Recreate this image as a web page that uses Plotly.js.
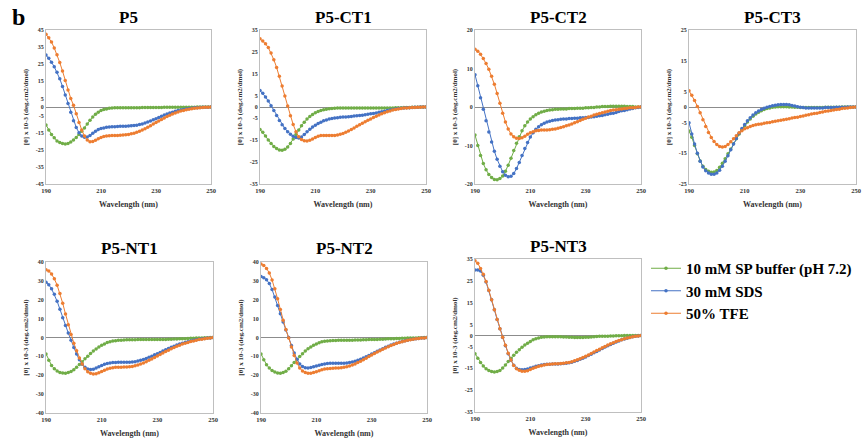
<!DOCTYPE html>
<html>
<head>
<meta charset="utf-8">
<script src="https://cdn.plot.ly/plotly-3.0.1.min.js"></script>
<style>html,body{margin:0;padding:0;background:#fff;}#chart{width:862px;height:445px;}</style>
</head>
<body>
<div id="chart"></div>
<script>
// Wavelength (nm)
const wavelength = [190,191,192,193,194,195,196,197,198,199,
  200,201,202,203,204,205,206,207,208,209,
  210,211,212,213,214,215,216,217,218,219,
  220,221,222,223,224,225,226,227,228,229,
  230,231,232,233,234,235,236,237,238,239,
  240,241,242,243,244,245,246,247,248,249,250];

const seriesNames = ["10 mM SP buffer (pH 7.2)", "30 mM SDS", "50% TFE"];
const panelTitles = ["P5", "P5-CT1", "P5-CT2", "P5-CT3", "P5-NT1", "P5-NT2", "P5-NT3"];
const xTicks = [190, 210, 230, 250];
const yRanges = [[-45,45],[-35,35],[-20,20],[-25,25],[-40,40],[-40,40],[-35,35]];
const yTicks = [
  [45,35,25,15,5,0,-5,-15,-25,-35,-45],
  [35,25,15,5,0,-5,-15,-25,-35],
  [20,10,0,-10,-20],
  [25,15,5,0,-5,-15,-25],
  [40,30,20,10,0,-10,-20,-30,-40],
  [40,30,20,10,0,-10,-20,-30,-40],
  [35,25,15,5,0,-5,-15,-25,-35]
];

// P5
const p5_buffer = [-10.5,-13.5,-16,-18,-19.8,-20.8,-21.4,-21.6,-21.3,-20.5,
  -19.3,-17.8,-16,-14.2,-12.2,-10,-7.8,-5.8,-4.2,-3,
  -2.1,-1.5,-1.1,-0.8,-0.6,-0.5,-0.5,-0.5,-0.4,-0.4,
  -0.4,-0.4,-0.4,-0.4,-0.4,-0.3,-0.3,-0.3,-0.3,-0.3,
  -0.3,-0.3,-0.3,-0.2,-0.2,-0.2,-0.2,-0.2,-0.2,-0.1,
  -0.1,-0.1,-0.1,-0.1,-0.1,0,0,0,0,0,0];
const p5_sds = [30.4,28.5,26.2,23.5,20.3,16.5,12,7,2,-3,
  -8,-12,-15,-17,-17.7,-17.5,-16.6,-15.3,-14.1,-13.2,
  -12.6,-12.2,-11.9,-11.7,-11.6,-11.5,-11.4,-11.3,-11.3,-11.2,
  -11.1,-11,-10.8,-10.6,-10.3,-9.9,-9.4,-8.8,-8.2,-7.5,
  -6.8,-6.1,-5.4,-4.7,-4.1,-3.5,-3,-2.5,-2.1,-1.7,
  -1.4,-1.1,-0.9,-0.7,-0.5,-0.4,-0.3,-0.2,-0.1,-0.1,0];
const p5_tfe = [42.5,40.5,38,34.5,30.5,26,21,15.5,10,5,
  1,-4,-9,-13.5,-17,-19.3,-20.3,-20.2,-19.5,-18.6,
  -17.8,-17.3,-17,-16.8,-16.7,-16.6,-16.6,-16.5,-16.4,-16.2,
  -16,-15.7,-15.3,-14.8,-14.2,-13.5,-12.7,-11.8,-10.9,-10,
  -9.1,-8.2,-7.3,-6.4,-5.6,-4.8,-4.1,-3.5,-2.9,-2.4,
  -2,-1.6,-1.3,-1,-0.8,-0.6,-0.4,-0.3,-0.2,-0.1,0];

// P5-CT1
const ct1_buffer = [-10.2,-11.5,-13.2,-15,-16.6,-17.9,-18.9,-19.5,-19.7,-19.2,
  -18.2,-16.6,-14.6,-12.5,-10.4,-8.5,-6.9,-5.5,-4.3,-3.4,
  -2.6,-2,-1.6,-1.3,-1,-0.8,-0.7,-0.6,-0.5,-0.5,
  -0.5,-0.5,-0.5,-0.5,-0.5,-0.5,-0.5,-0.5,-0.5,-0.5,
  -0.5,-0.5,-0.5,-0.5,-0.5,-0.5,-0.4,-0.4,-0.4,-0.3,
  -0.3,-0.3,-0.2,-0.2,-0.2,-0.1,-0.1,-0.1,0,0,0];
const ct1_sds = [7.5,6.2,4.6,2.7,0.6,-1.6,-3.9,-6.1,-8.1,-9.8,
  -11.2,-12.4,-13.3,-13.9,-14.1,-13.6,-12.5,-11.3,-10.1,-9.1,
  -8.3,-7.5,-6.9,-6.3,-5.9,-5.5,-5.2,-5,-4.9,-4.7,
  -4.6,-4.5,-4.4,-4.3,-4.1,-4,-3.9,-3.7,-3.5,-3.3,
  -3.1,-2.9,-2.7,-2.4,-2.2,-1.9,-1.6,-1.4,-1.1,-0.9,
  -0.7,-0.6,-0.4,-0.3,-0.3,-0.2,-0.1,-0.1,0,0,0];
const ct1_tfe = [31,30,28.7,27,24.5,21.5,18,14,9.5,5,
  0.5,-4,-8,-11.2,-13.5,-14.8,-15.3,-15.4,-15.1,-14.6,
  -13.9,-13.3,-13,-12.9,-12.9,-13,-13,-12.9,-12.7,-12.4,
  -12,-11.5,-10.9,-10.2,-9.5,-8.8,-8.1,-7.4,-6.7,-6,
  -5.4,-4.8,-4.2,-3.6,-3.1,-2.6,-2.2,-1.8,-1.4,-1.1,
  -0.9,-0.7,-0.5,-0.4,-0.3,-0.2,-0.2,-0.1,-0.1,0,0];

// P5-CT2
const ct2_buffer = [-7.3,-10,-12.6,-14.7,-16.3,-17.5,-18.3,-18.8,-18.9,-18.6,
  -17.9,-16.7,-15.1,-13.3,-11.3,-9.4,-7.7,-6.2,-4.9,-3.9,
  -3.1,-2.5,-2,-1.6,-1.3,-1.1,-0.9,-0.8,-0.7,-0.6,
  -0.6,-0.5,-0.5,-0.5,-0.4,-0.4,-0.4,-0.3,-0.3,-0.3,
  -0.2,-0.2,-0.1,-0.1,0,0,0.1,0.1,0.1,0.2,
  0.2,0.2,0.2,0.2,0.2,0.1,0.1,0.1,0,0,0];
const ct2_sds = [8.4,5.5,2.4,-0.6,-3.6,-6.5,-9.1,-11.5,-13.6,-15.4,
  -16.8,-17.7,-18.1,-18,-17.3,-16,-14.4,-12.6,-10.8,-9.2,
  -7.8,-6.7,-5.8,-5.1,-4.6,-4.2,-3.9,-3.7,-3.5,-3.4,
  -3.3,-3.2,-3.1,-3.1,-3,-3,-2.9,-2.9,-2.8,-2.8,
  -2.7,-2.7,-2.6,-2.5,-2.4,-2.3,-2.2,-2,-1.9,-1.7,
  -1.6,-1.4,-1.2,-1,-0.9,-0.7,-0.5,-0.4,-0.2,-0.1,0];
const ct2_tfe = [15,14.5,13.7,12.6,11.3,9.8,8,5.9,3.5,1,
  -1.6,-3.9,-5.7,-7,-7.7,-8.1,-8.2,-8,-7.6,-7.1,
  -6.7,-6.4,-6.2,-6.1,-6,-6,-6,-5.9,-5.8,-5.7,
  -5.5,-5.3,-5.1,-4.9,-4.7,-4.4,-4.1,-3.8,-3.5,-3.2,
  -2.9,-2.6,-2.4,-2.1,-1.9,-1.7,-1.5,-1.3,-1.1,-0.9,
  -0.8,-0.7,-0.6,-0.5,-0.4,-0.3,-0.2,-0.2,-0.1,0,0];

// P5-CT3
const ct3_buffer = [-7.8,-9.8,-12.5,-15.2,-17.5,-19.2,-20.3,-20.9,-21.2,-21.1,
  -20.6,-19.6,-18.3,-16.8,-15.2,-13.6,-11.9,-10.3,-8.8,-7.4,
  -6.1,-4.9,-3.9,-3,-2.3,-1.7,-1.2,-0.8,-0.5,-0.3,
  -0.1,0,0.1,0.1,0.1,0.1,0,0,-0.1,-0.1,
  -0.2,-0.2,-0.2,-0.2,-0.2,-0.2,-0.2,-0.2,-0.2,-0.1,
  -0.1,-0.1,-0.1,-0.1,-0.1,0,0,0,0,0,0];
const ct3_sds = [-5.1,-8.8,-12,-15,-17.6,-19.5,-20.7,-21.4,-21.8,-21.8,
  -21.4,-20.5,-19.2,-17.6,-15.8,-13.9,-12,-10.2,-8.5,-7,
  -5.7,-4.5,-3.5,-2.6,-1.9,-1.3,-0.8,-0.4,-0.1,0.2,
  0.4,0.6,0.7,0.8,0.8,0.8,0.7,0.5,0.3,0.1,
  -0.1,-0.2,-0.3,-0.3,-0.3,-0.3,-0.3,-0.3,-0.3,-0.2,
  -0.2,-0.2,-0.2,-0.1,-0.1,-0.1,-0.1,0,0,0,0];
const ct3_tfe = [5.3,3.8,2.1,0.2,-1.9,-4.1,-6.3,-8.3,-9.9,-11.2,
  -12.2,-12.8,-13,-12.8,-12.2,-11.3,-10.3,-9.3,-8.4,-7.7,
  -7.1,-6.7,-6.3,-6,-5.8,-5.6,-5.5,-5.3,-5.1,-5,
  -4.8,-4.6,-4.5,-4.3,-4.1,-4,-3.8,-3.6,-3.4,-3.3,
  -3.1,-2.9,-2.7,-2.5,-2.3,-2.1,-2,-1.8,-1.6,-1.4,
  -1.3,-1.1,-1,-0.8,-0.7,-0.5,-0.4,-0.3,-0.2,-0.1,0];

// P5-NT1
const nt1_buffer = [-8.7,-12,-14.8,-16.6,-17.8,-18.5,-18.8,-18.9,-18.6,-18,
  -17.1,-15.8,-14.3,-12.8,-11.3,-9.9,-8.5,-7.2,-6.1,-5,
  -4.1,-3.4,-2.7,-2.2,-1.9,-1.7,-1.5,-1.4,-1.3,-1.2,
  -1.2,-1.2,-1.2,-1.1,-1.1,-1.1,-1.1,-1.1,-1.1,-1.1,
  -1,-1,-1,-1,-0.9,-0.9,-0.8,-0.8,-0.7,-0.6,
  -0.6,-0.5,-0.4,-0.4,-0.3,-0.2,-0.2,-0.1,-0.1,0,0];
const nt1_sds = [29.3,27.9,25.8,22.9,19.2,15,10.5,6.3,2.4,-1.5,
  -5.3,-8.8,-11.8,-14.2,-15.8,-16.7,-17,-16.8,-16.2,-15.5,
  -14.8,-14.2,-13.8,-13.5,-13.3,-13.2,-13.1,-13.1,-13.1,-13.1,
  -13.1,-13,-12.8,-12.5,-12.1,-11.6,-11.1,-10.5,-9.9,-9.2,
  -8.6,-7.9,-7.2,-6.5,-5.8,-5.2,-4.6,-4,-3.5,-3,
  -2.6,-2.2,-1.8,-1.5,-1.2,-0.9,-0.7,-0.5,-0.3,-0.2,0];
const nt1_tfe = [35.9,35.2,33.6,31.1,27.7,23.3,18.2,12.5,6.8,1.6,
  -3,-7,-10.8,-14,-16.5,-18.2,-19,-19.3,-19.2,-18.7,
  -18,-17.3,-16.7,-16.3,-16,-15.8,-15.7,-15.7,-15.6,-15.6,
  -15.5,-15.3,-15,-14.6,-14.1,-13.5,-12.8,-12.1,-11.4,-10.6,
  -9.8,-9,-8.2,-7.4,-6.7,-6,-5.3,-4.7,-4.1,-3.5,
  -3,-2.6,-2.1,-1.8,-1.4,-1.1,-0.9,-0.6,-0.4,-0.2,0];

// P5-NT2
const nt2_buffer = [-8.7,-11.8,-14.4,-16.2,-17.5,-18.3,-18.8,-18.9,-18.6,-17.9,
  -16.6,-15,-13.2,-11.6,-10.1,-8.6,-7.2,-6,-5,-4.1,
  -3.4,-2.8,-2.3,-2,-1.8,-1.7,-1.6,-1.6,-1.5,-1.5,
  -1.5,-1.4,-1.4,-1.4,-1.3,-1.3,-1.3,-1.2,-1.2,-1.1,
  -1.1,-1,-1,-0.9,-0.9,-0.8,-0.7,-0.7,-0.6,-0.5,
  -0.5,-0.4,-0.4,-0.3,-0.3,-0.2,-0.2,-0.1,-0.1,0,0];
const nt2_sds = [32.3,31.7,30.6,28.6,25.4,21.4,17,12.6,8.2,4,
  0,-4.2,-8.2,-11.5,-14,-15.4,-16,-16.1,-15.9,-15.5,
  -15.1,-14.7,-14.3,-14,-13.8,-13.7,-13.6,-13.6,-13.6,-13.6,
  -13.6,-13.5,-13.3,-13,-12.6,-12.1,-11.5,-10.9,-10.2,-9.5,
  -8.8,-8.1,-7.3,-6.6,-5.9,-5.2,-4.6,-4,-3.5,-3,
  -2.5,-2.1,-1.7,-1.4,-1.1,-0.9,-0.7,-0.5,-0.3,-0.2,0];
const nt2_tfe = [39,38.1,36.6,34.2,30.5,25.8,20.5,14.8,9.2,4.2,
  -0.2,-5,-9.5,-13.5,-16.2,-17.7,-18.5,-18.9,-18.9,-18.6,
  -18.1,-17.6,-17.1,-16.7,-16.5,-16.4,-16.3,-16.2,-16.1,-16,
  -15.8,-15.5,-15.1,-14.6,-14,-13.3,-12.6,-11.8,-11,-10.1,
  -9.3,-8.5,-7.7,-7,-6.2,-5.5,-4.9,-4.3,-3.7,-3.1,
  -2.6,-2.2,-1.8,-1.5,-1.2,-0.9,-0.7,-0.5,-0.3,-0.2,0];

// P5-NT3
const nt3_buffer = [-8.3,-10.4,-12.4,-14,-15.2,-16,-16.5,-16.7,-16.5,-16,
  -14.9,-13.5,-11.9,-10.4,-9,-7.7,-6.5,-5.4,-4.4,-3.5,
  -2.7,-2,-1.5,-1.1,-0.8,-0.7,-0.6,-0.6,-0.6,-0.6,
  -0.6,-0.6,-0.7,-0.7,-0.8,-0.8,-0.9,-0.9,-0.9,-0.9,
  -0.8,-0.8,-0.7,-0.6,-0.5,-0.4,-0.4,-0.3,-0.3,-0.2,
  -0.2,-0.1,-0.1,-0.1,0,0,0,0,0,0,0];
const nt3_sds = [30,30,29.5,27.6,24.5,20.6,16.3,11.8,7.3,3.1,
  -0.9,-4.7,-8.3,-11.3,-13.6,-15,-15.5,-15.7,-15.6,-15.3,
  -14.9,-14.5,-14.1,-13.8,-13.5,-13.3,-13.2,-13.1,-13,-13,
  -13,-12.9,-12.8,-12.7,-12.5,-12.2,-11.8,-11.4,-10.9,-10.4,
  -9.8,-9.2,-8.6,-7.9,-7.3,-6.6,-6,-5.3,-4.7,-4.1,
  -3.5,-3,-2.5,-2,-1.6,-1.3,-0.9,-0.6,-0.4,-0.2,0];
const nt3_tfe = [34.2,33,30.7,28,24.7,20.7,16.3,11.8,7.3,3.1,
  -0.8,-4.5,-8.1,-11.2,-13.7,-15.2,-15.9,-16.3,-16.4,-16.1,
  -15.6,-15,-14.5,-14.1,-13.8,-13.5,-13.3,-13.1,-13,-12.9,
  -12.9,-12.8,-12.7,-12.5,-12.3,-12,-11.6,-11.1,-10.6,-10.1,
  -9.5,-8.9,-8.2,-7.6,-6.9,-6.3,-5.6,-5,-4.4,-3.8,
  -3.3,-2.8,-2.3,-1.9,-1.5,-1.2,-0.9,-0.6,-0.4,-0.2,0];

const panelData = [
  [p5_buffer, p5_sds, p5_tfe],
  [ct1_buffer, ct1_sds, ct1_tfe],
  [ct2_buffer, ct2_sds, ct2_tfe],
  [ct3_buffer, ct3_sds, ct3_tfe],
  [nt1_buffer, nt1_sds, nt1_tfe],
  [nt2_buffer, nt2_sds, nt2_tfe],
  [nt3_buffer, nt3_sds, nt3_tfe]
];

const colors = ["#70AD47", "#4472C4", "#ED7D31"];
const W = 862, H = 445;
// plot-area boxes in pixels [left, right, top, bottom]
const boxes = [
  [46, 211, 30, 184], [260, 426, 30, 184], [475, 641, 30, 184], [689, 856, 30, 184],
  [46, 213, 262, 413], [261, 427, 262, 413], [475, 641, 259, 412]
];
const serif = "Liberation Serif";

const traces = [];
const layout = {
  width: W, height: H,
  margin: {l: 0, r: 0, t: 0, b: 0},
  paper_bgcolor: "#fff", plot_bgcolor: "#fff",
  font: {family: serif},
  showlegend: true,
  legend: {
    x: 646 / W, y: 1 - 252 / H, xanchor: "left", yanchor: "top",
    font: {family: serif, size: 15, color: "#000", weight: "bold"},
    bgcolor: "rgba(0,0,0,0)", itemwidth: 30, tracegroupgap: 0
  },
  annotations: [
    {text: "b", x: 10 / W, y: 1 - 17 / H, xref: "paper", yref: "paper", xanchor: "left", yanchor: "middle",
     showarrow: false, font: {family: serif, size: 24, color: "#000", weight: "bold"}}
  ]
};

boxes.forEach((b, i) => {
  const n = i + 1;
  const xa = n === 1 ? "xaxis" : "xaxis" + n;
  const ya = n === 1 ? "yaxis" : "yaxis" + n;
  const xr = n === 1 ? "x" : "x" + n;
  const yr = n === 1 ? "y" : "y" + n;
  layout[xa] = {
    domain: [b[0] / W, b[1] / W], anchor: yr,
    range: [190, 250], tickvals: xTicks, ticktext: xTicks.map(String),
    showgrid: false, zeroline: false, showline: true, mirror: true,
    linecolor: "#bfbfbf", linewidth: 1, ticks: "",
    tickfont: {family: serif, size: 6.5, color: "#333", weight: "bold"},
    title: {text: "Wavelength (nm)", font: {family: serif, size: 8, color: "#333", weight: "bold"}, standoff: 8}
  };
  layout[ya] = {
    domain: [1 - b[3] / H, 1 - b[2] / H], anchor: xr,
    range: yRanges[i], tickvals: yTicks[i], ticktext: yTicks[i].map(String),
    showgrid: false, zeroline: true, zerolinecolor: "#8c8c8c", zerolinewidth: 1,
    showline: true, mirror: true, linecolor: "#bfbfbf", linewidth: 1, ticks: "",
    tickfont: {family: serif, size: 6, color: "#333", weight: "bold"},
    title: {text: "[θ] x 10-3 (deg.cm2/dmol)", font: {family: serif, size: 7, color: "#333", weight: "bold"}, standoff: 6}
  };
  layout.annotations.push({
    text: panelTitles[i], x: (b[0] + b[1]) / 2 / W, y: 1 - (b[2] - 13) / H,
    xref: "paper", yref: "paper", xanchor: "center", yanchor: "middle", showarrow: false,
    font: {family: serif, size: 17, color: "#000", weight: "bold"}
  });
  panelData[i].forEach((vals, s) => {
    traces.push({
      x: wavelength, y: vals, xaxis: xr, yaxis: yr,
      type: "scatter", mode: "lines+markers",
      name: seriesNames[s], legendgroup: seriesNames[s], showlegend: i === 0,
      line: {color: colors[s], width: 1},
      marker: {color: colors[s], size: 3.5}
    });
  });
});

Plotly.newPlot("chart", traces, layout, {displayModeBar: false, staticPlot: true});
</script>
</body>
</html>
